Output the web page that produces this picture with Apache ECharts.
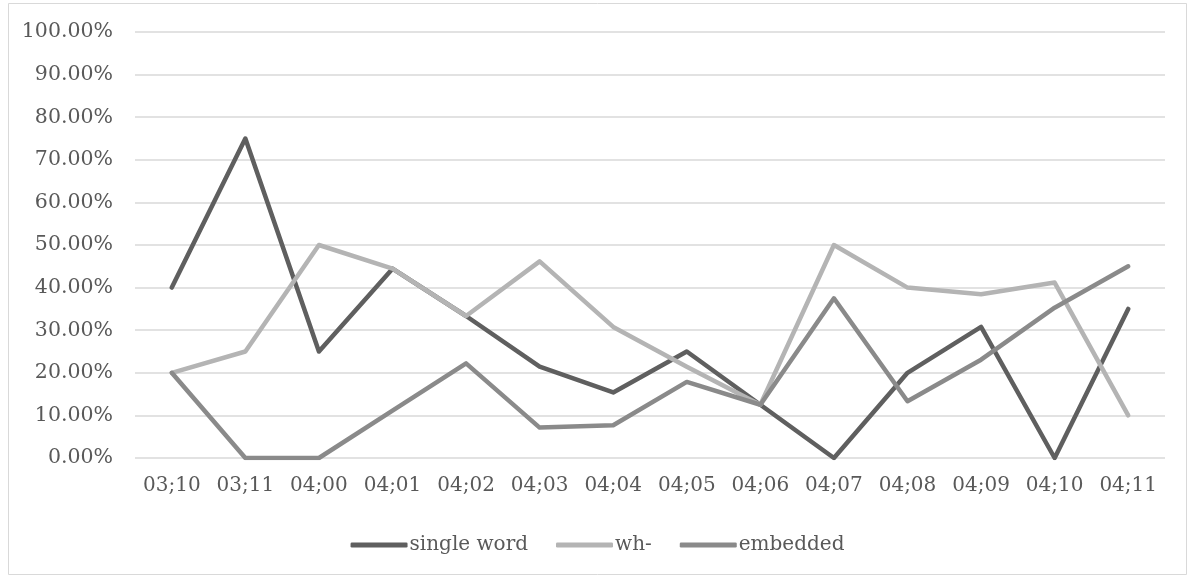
<!DOCTYPE html>
<html>
<head>
<meta charset="utf-8">
<script src="https://cdn.jsdelivr.net/npm/echarts@6/dist/echarts.min.js"></script>
<style>
  html, body { margin: 0; padding: 0; background: #fff; }
  #chart { width: 1195px; height: 578px; }
</style>
</head>
<body>
<div id="chart"></div>
<script>
// Age categories (years;months)
const categories = ['03;10', '03;11', '04;00', '04;01', '04;02', '04;03', '04;04',
                    '04;05', '04;06', '04;07', '04;08', '04;09', '04;10', '04;11'];

// Proportions per question type, in percent
const singleWord = [40, 75, 25, 44.44, 33.33, 21.43, 15.38, 25, 12.5, 0, 20, 30.77, 0, 35];
const whQuestion = [20, 25, 50, 44.44, 33.33, 46.15, 30.77, 21.43, 12.5, 50, 40, 38.46, 41.18, 10];
const embedded   = [20, 0, 0, 11.11, 22.22, 7.14, 7.69, 17.86, 12.5, 37.5, 13.33, 23.08, 35.29, 45];

const font = 'DejaVu Serif';
const textColor = '#595959';

function lineSeries(name, data, color) {
  return {
    name: name,
    type: 'line',
    data: data,
    symbol: 'none',
    lineStyle: { width: 4.5, color: color, cap: 'round', join: 'round' },
    itemStyle: { color: color },
    emphasis: { disabled: true }
  };
}

const chart = echarts.init(document.getElementById('chart'));
chart.setOption({
  animation: false,
  backgroundColor: '#fff',
  textStyle: { fontFamily: font, color: textColor },
  graphic: [{
    type: 'rect',
    shape: { x: 8.5, y: 3.5, width: 1178, height: 571 },
    style: { fill: 'none', stroke: '#d9d9d9', lineWidth: 1 },
    silent: true
  }],
  grid: { left: 135, right: 30, top: 32, bottom: 120, containLabel: false },
  legend: {
    top: 530,
    left: 'center',
    itemWidth: 57,
    itemHeight: 5,
    itemGap: 28,
    icon: 'roundRect',
    formatter: name => '{t|' + name + '}',
    textStyle: {
      color: textColor,
      rich: { t: { fontFamily: font, fontSize: 20, color: textColor, padding: [0, 0, 0, -3] } }
    },
    data: ['single word', 'wh-', 'embedded']
  },
  xAxis: {
    type: 'category',
    data: categories,
    boundaryGap: true,
    axisLine: { show: false },
    axisTick: { show: false },
    axisLabel: { fontFamily: font, fontSize: 20, color: textColor, margin: 18, interval: 0 }
  },
  yAxis: {
    type: 'value',
    min: 0,
    max: 100,
    interval: 10,
    axisLine: { show: false },
    axisTick: { show: false },
    splitLine: { lineStyle: { color: '#d9d9d9', width: 1.5 } },
    axisLabel: {
      fontFamily: font, fontSize: 20.5, color: textColor, margin: 22,
      formatter: v => v.toFixed(2) + '%'
    }
  },
  series: [
    lineSeries('single word', singleWord, '#5f5f5f'),
    lineSeries('wh-', whQuestion, '#b4b4b4'),
    lineSeries('embedded', embedded, '#8a8a8a')
  ]
});
</script>
</body>
</html>
